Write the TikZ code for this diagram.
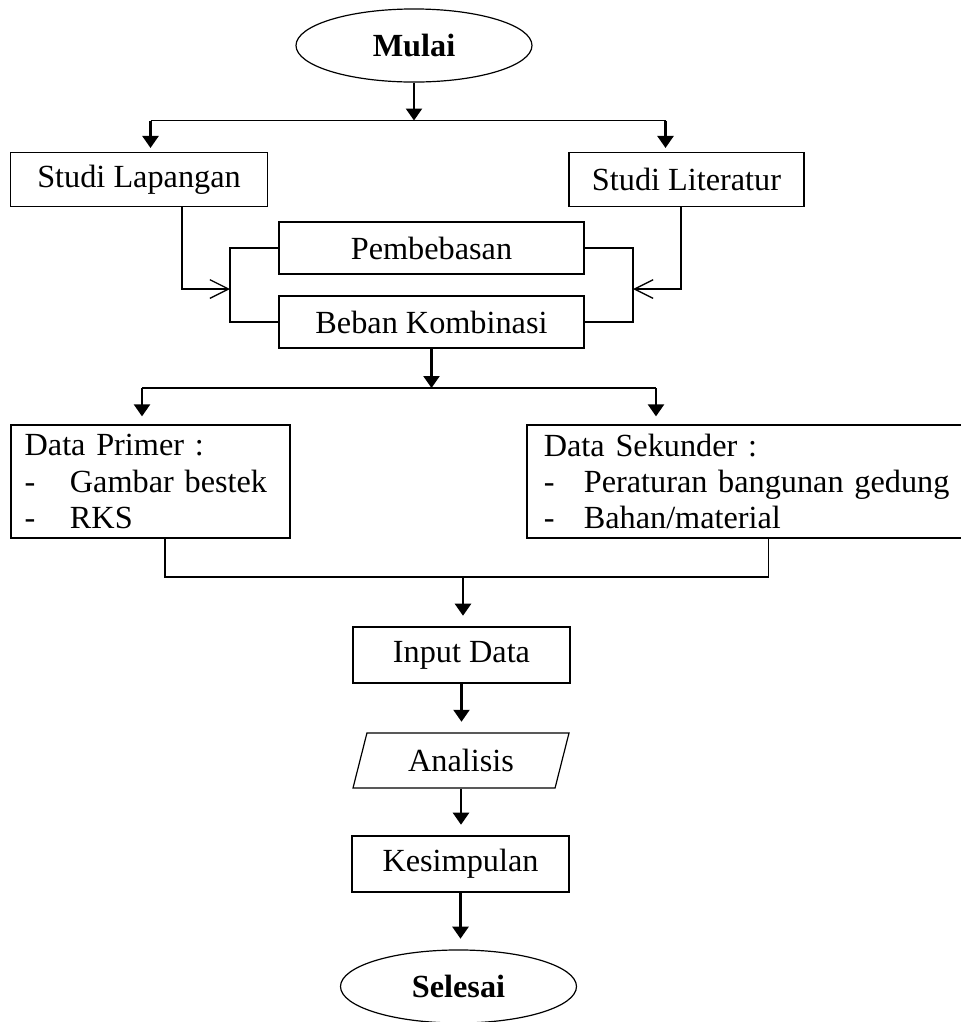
\documentclass[tikz,border=0pt]{standalone}
\usepackage{fontspec}
\setmainfont{Liberation Serif}
\usetikzlibrary{arrows.meta}
\usetikzlibrary{shapes.geometric}
\newcommand\Strich[1][17pt]{\makebox[#1][l]{-}}
\tikzset{
  Kasten/.style={draw,line width=.45pt,inner sep=0pt,minimum width=#1,minimum height=20pt}, % einfache Kaesten
  Liste/.style={draw,line width=.45pt,inner ysep=2pt,text width=#1,align=left,minimum height=42.4pt}, % Kaesten mit Aufzaehlung
  Oval/.style={draw,ellipse,line width=.45pt,minimum width=88.5pt,minimum height=27.4pt,
    font=\fontsize{12.1}{13.6}\selectfont\bfseries},
  Schraeg/.style={draw,trapezium,trapezium left angle=71,trapezium right angle=109,
    trapezium stretches body,line width=.45pt,minimum width=81pt,minimum height=20.6pt},
  Pfeil/.style={line width=.9pt,shorten >=#1,-{Triangle[length=4.5pt,width=6pt]}}, % gefuellte Pfeile
  Pfeil/.default=4pt,
  OPfeil/.style={line width=.5pt,-{Straight Barb[length=7pt,width=7pt]}}, % offene Pfeile
  Linie/.style={line width=.5pt}
}
\begin{document}
\begin{tikzpicture}[x=0.375pt,y=-0.375pt,
font=\fontsize{12.1}{13.6}\selectfont
]
\useasboundingbox (0,0) rectangle (960,1022);

%Knoten
\node[Oval] (mulai) at (414,45.5) {Mulai};
\node[Kasten=96.4pt] (lap) at (139,179.5) {Studi Lapangan};
\node[Kasten=88.1pt] (lit) at (686.5,179.5) {Studi Literatur};
\node[Kasten=114.4pt, minimum height=19.5pt] (pemb) at (431.5,248) {Pembebasan};
\node[Kasten=114.4pt, minimum height=19.5pt] (beban) at (431.5,322) {Beban Kombinasi};
\node[Liste=94.4pt, inner xsep=5.1pt] (prim) at (150.5,481.5)
  {Data Primer :\\ \mbox{\Strich Gambar bestek}\\ \Strich RKS};
\node[Liste=150.5pt, inner xsep=6.3pt] (sek) at (744.5,481.5)
  {Data Sekunder :\\ \mbox{\Strich[15pt]Peraturan bangunan gedung}\\ \Strich[15pt]Bahan/material};
\node[Kasten=81.4pt, minimum height=21pt] (input) at (461.5,655) {Input Data};
\node[Schraeg] (anal) at (461,760.5) {Analisis};
\node[Kasten=81.4pt, minimum height=21pt] (kes) at (460.5,864) {Kesimpulan};
\node[Oval] (sel) at (458.5,986.5) {Selesai};

%Hilfspunkte
\coordinate (o) at (414,120.5);
\coordinate (oL) at (150.5,120.5);
\coordinate (oR) at (665.5,120.5);
\coordinate (aL) at (182,289);
\coordinate (aR) at (681,289);
\coordinate (kL) at (230,289);
\coordinate (kR) at (633,289);
\coordinate (m) at (431.5,388);
\coordinate (mL) at (142,388);
\coordinate (mR) at (656,388);
\coordinate (uL) at (165,577);
\coordinate (uR) at (768.5,577);
\coordinate (u) at (463,577);

%Verbindungen
\draw[Pfeil=0pt] (mulai.south) -- (o);
\draw[Linie] (oL) -- (oR);
\draw[Pfeil=1.6pt] (oL) -- (oL |- lap.north);
\draw[Pfeil=1.6pt] (oR) -- (oR |- lit.north);

\draw[OPfeil] (aL |- lap.south) -- (aL) -- (kL);
\draw[OPfeil] (aR |- lit.south) -- (aR) -- (kR);
\draw[Linie] (pemb.west) -| (kL) |- (beban.west);
\draw[Linie] (pemb.east) -| (kR) |- (beban.east);

\draw[Pfeil=0pt] (beban.south) -- (m);
\draw[Linie] (mL) -- (mR);
\draw[Pfeil=3pt] (mL) -- (mL |- prim.north);
\draw[Pfeil=3pt] (mR) -- (mR |- sek.north);

\draw[Linie] (uL |- prim.south) -- (uL) -- (uR) -- (uR |- sek.south);
\draw[Pfeil] (u) -- (u |- input.north);
\draw[Pfeil] (input.south) -- (input.south |- anal.north);
\draw[Pfeil] (anal.south) -- (anal.south |- kes.north);
\draw[Pfeil] (kes.south) -- (kes.south |- sel.north);

\end{tikzpicture}
\end{document}
